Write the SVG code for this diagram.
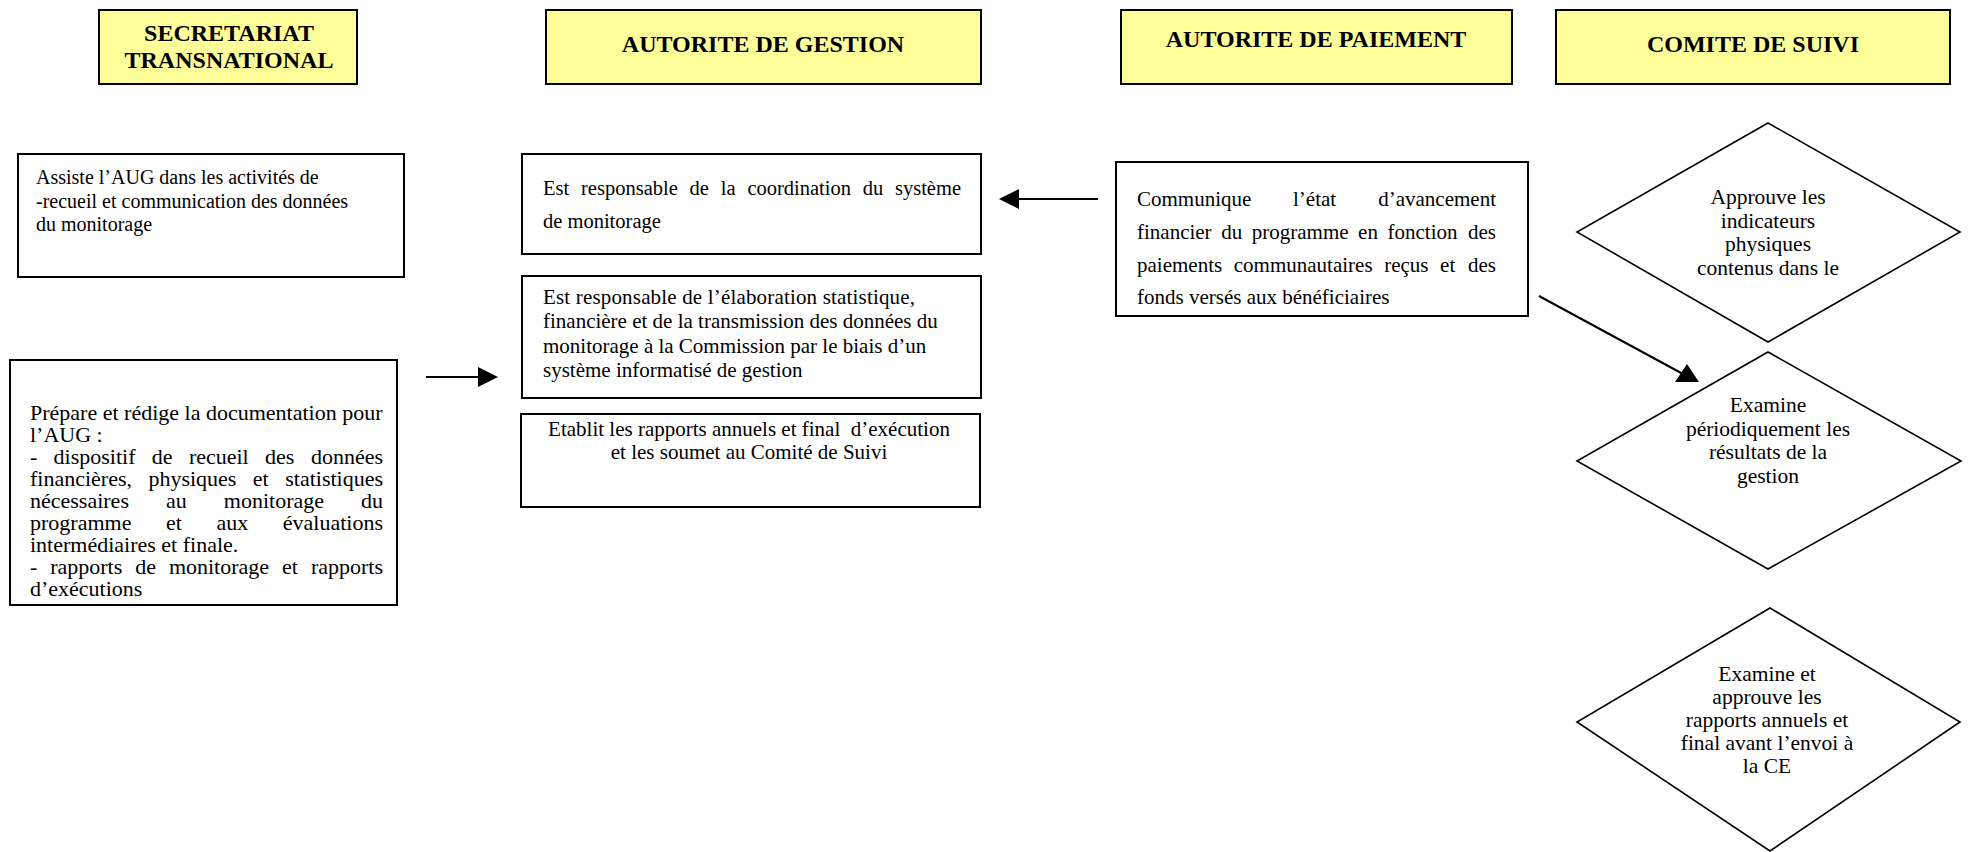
<svg xmlns="http://www.w3.org/2000/svg" width="1968" height="852" viewBox="0 0 1968 852">
<style>
  text { font-family: "Liberation Serif", "Times New Roman", serif; fill: #000; }
  .hdr { fill: #FFFF99; stroke: #000; stroke-width: 2; }
  .box { fill: #fff; stroke: #000; stroke-width: 2; }
  .dia { fill: #fff; stroke: #000; stroke-width: 1.6; }
  .ht { font-size: 24px; font-weight: bold; text-anchor: middle; }
  .t20 { font-size: 20px; }
  .t21 { font-size: 21px; }
  .t205 { font-size: 20.5px; }
  .t22 { font-size: 22px; }
  .dt { font-size: 21.5px; text-anchor: middle; }
  .mid { text-anchor: middle; }
  .end { text-anchor: end; }
  .conn { stroke: #000; stroke-width: 2; fill: none; }
  .head { fill: #000; stroke: none; }
</style>
<rect width="1968" height="852" fill="#fff"/>

<g id="hdr-secretariat">
  <rect class="hdr" x="99" y="10" width="258" height="74"/>
  <text class="ht" x="229" y="41">SECRETARIAT</text>
  <text class="ht" x="229" y="68">TRANSNATIONAL</text>
</g>
<g id="hdr-gestion">
  <rect class="hdr" x="546" y="10" width="435" height="74"/>
  <text class="ht" x="763" y="52">AUTORITE DE GESTION</text>
</g>
<g id="hdr-paiement">
  <rect class="hdr" x="1121" y="10" width="391" height="74"/>
  <text class="ht" x="1316" y="47">AUTORITE DE PAIEMENT</text>
</g>
<g id="hdr-comite">
  <rect class="hdr" x="1556" y="10" width="394" height="74"/>
  <text class="ht" x="1753" y="52">COMITE DE SUIVI</text>
</g>

<g id="st-assiste">
  <rect class="box" x="18" y="154" width="386" height="123"/>
  <text class="t20" x="36" y="184">Assiste l’AUG dans les activités de</text>
  <text class="t20" x="36" y="208">-recueil et communication des données</text>
  <text class="t20" x="36" y="231">du monitorage</text>
</g>

<g id="st-prepare">
  <rect class="box" x="10" y="360" width="387" height="245"/>
  <text class="t22" x="30" y="420">Prépare et rédige la documentation pour</text>
  <text class="t22" x="30" y="442">l’AUG :</text>
  <text class="t22" y="464"><tspan x="30">-</tspan><tspan x="53.6">dispositif</tspan><tspan x="151.8">de</tspan><tspan x="188.9">recueil</tspan><tspan x="265.1">des</tspan></text>
  <text class="t22 end" x="383" y="464">données</text>
  <text class="t22" y="486"><tspan x="30">financières,</tspan><tspan x="148.4">physiques</tspan><tspan x="252.8">et</tspan></text>
  <text class="t22 end" x="383" y="486">statistiques</text>
  <text class="t22" y="508"><tspan x="30">nécessaires</tspan><tspan x="166">au</tspan><tspan x="223.8">monitorage</tspan></text>
  <text class="t22 end" x="383" y="508">du</text>
  <text class="t22" y="530"><tspan x="30">programme</tspan><tspan x="166">et</tspan><tspan x="216.5">aux</tspan></text>
  <text class="t22 end" x="383" y="530">évaluations</text>
  <text class="t22" x="30" y="552">intermédiaires et finale.</text>
  <text class="t22" y="574"><tspan x="30">-</tspan><tspan x="50.2">rapports</tspan><tspan x="135.2">de</tspan><tspan x="168.9">monitorage</tspan><tspan x="282">et</tspan></text>
  <text class="t22 end" x="383" y="574">rapports</text>
  <text class="t22" x="30" y="596">d’exécutions</text>
</g>

<g id="ag-coordination">
  <rect class="box" x="522" y="154" width="459" height="100"/>
  <text class="t205" y="195"><tspan x="543">Est</tspan><tspan x="581">responsable</tspan><tspan x="689.6">de</tspan><tspan x="720.8">la</tspan><tspan x="747.4">coordination</tspan><tspan x="862.8">du</tspan></text>
  <text class="t205 end" x="961" y="195">système</text>
  <text class="t205" x="543" y="228">de monitorage</text>
</g>

<g id="ag-elaboration">
  <rect class="box" x="522" y="276" width="459" height="122"/>
  <text class="t21" x="543" y="304" textLength="372" lengthAdjust="spacing">Est responsable de l’élaboration statistique,</text>
  <text class="t21" x="543" y="328">financière et de la transmission des données du</text>
  <text class="t21" x="543" y="353">monitorage à la Commission par le biais d’un</text>
  <text class="t21" x="543" y="377">système informatisé de gestion</text>
</g>

<g id="ag-rapports">
  <rect class="box" x="521" y="414" width="459" height="93"/>
  <text class="t21 mid" x="749" y="436" style="white-space:pre">Etablit les rapports annuels et final  d’exécution</text>
  <text class="t21 mid" x="749" y="459">et les soumet au Comité de Suivi</text>
</g>

<g id="ap-communique">
  <rect class="box" x="1116" y="162" width="412" height="154"/>
  <text class="t21" y="206"><tspan x="1137">Communique</tspan><tspan x="1293">l’état</tspan></text>
  <text class="t21 end" x="1496" y="206">d’avancement</text>
  <text class="t21" y="239"><tspan x="1137">financier</tspan><tspan x="1221.2">du</tspan><tspan x="1251.8">programme</tspan><tspan x="1358.1">en</tspan><tspan x="1387.5">fonction</tspan></text>
  <text class="t21 end" x="1496" y="239">des</text>
  <text class="t21" y="272"><tspan x="1137">paiements</tspan><tspan x="1233.8">communautaires</tspan><tspan x="1384.2">reçus</tspan><tspan x="1440.1">et</tspan></text>
  <text class="t21 end" x="1496" y="272">des</text>
  <text class="t21" x="1137" y="304">fonds versés aux bénéficiaires</text>
</g>

<g id="cs-approuve">
  <polygon class="dia" points="1768,123 1960,232 1768,342 1577,232"/>
  <text class="dt" x="1768" y="204">Approuve les</text>
  <text class="dt" x="1768" y="228">indicateurs</text>
  <text class="dt" x="1768" y="251">physiques</text>
  <text class="dt" x="1768" y="275">contenus dans le</text>
</g>

<g id="cs-examine">
  <polygon class="dia" points="1768,352 1961,461 1768,569 1577,461"/>
  <text class="dt" x="1768" y="412">Examine</text>
  <text class="dt" x="1768" y="436">périodiquement les</text>
  <text class="dt" x="1768" y="459">résultats de la</text>
  <text class="dt" x="1768" y="483">gestion</text>
</g>

<g id="cs-rapports">
  <polygon class="dia" points="1770,608 1960,722 1770,851 1577,722"/>
  <text class="dt" x="1767" y="681">Examine et</text>
  <text class="dt" x="1767" y="704">approuve les</text>
  <text class="dt" x="1767" y="727">rapports annuels et</text>
  <text class="dt" x="1767" y="750">final avant l’envoi à</text>
  <text class="dt" x="1767" y="773">la CE</text>
</g>

<g id="connectors">
  <line class="conn" x1="426" y1="377" x2="480" y2="377"/>
  <polygon class="head" points="498,377 478,367 478,387"/>
  <line class="conn" x1="1098" y1="199" x2="1017" y2="199"/>
  <polygon class="head" points="999,199 1019,189 1019,209"/>
  <line class="conn" x1="1539" y1="296" x2="1683" y2="374"/>
  <polygon class="head" points="1687,364 1675,382 1699,382"/>
</g>
</svg>
